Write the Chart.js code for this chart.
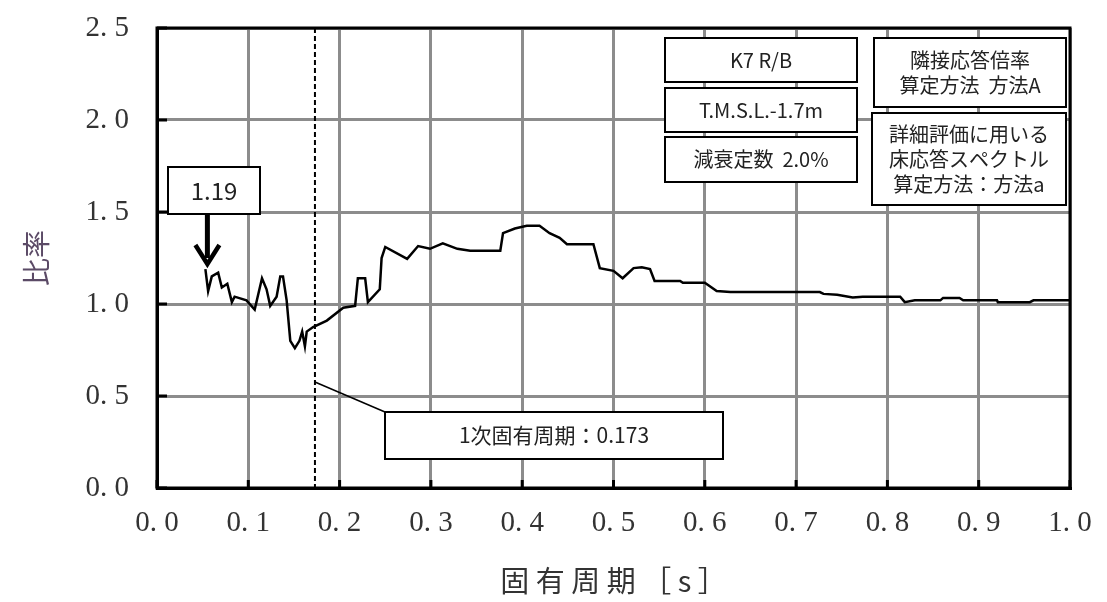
<!DOCTYPE html>
<html>
<head>
<meta charset="utf-8">
<script src="https://cdn.jsdelivr.net/npm/chart.js@4.4.0/dist/chart.umd.min.js"></script>
<style>
  body { margin: 0; background: #fff; }
  #wrap { width: 1107px; height: 602px; }
</style>
</head>
<body>
<div id="wrap"><canvas id="myLineChart1"></canvas></div>
<script>
// periods [s] and ratio values
var periods = [0.053, 0.056, 0.060, 0.067, 0.071, 0.077, 0.082, 0.085, 0.098, 0.107,
  0.115, 0.120, 0.124, 0.131, 0.135, 0.138, 0.142, 0.146, 0.151, 0.156,
  0.159, 0.162, 0.164, 0.171, 0.186, 0.204, 0.217, 0.220, 0.228, 0.231,
  0.244, 0.246, 0.250, 0.274, 0.286, 0.299, 0.313, 0.329, 0.343, 0.376,
  0.379, 0.392, 0.405, 0.419, 0.430, 0.441, 0.449, 0.478, 0.485, 0.500,
  0.510, 0.522, 0.531, 0.540, 0.545, 0.573, 0.576, 0.600, 0.613, 0.628,
  0.726, 0.730, 0.745, 0.762, 0.773, 0.814, 0.819, 0.830, 0.858, 0.861,
  0.879, 0.883, 0.920, 0.921, 0.956, 0.960, 1.000];
var ratios = [1.19, 1.07, 1.15, 1.17, 1.09, 1.11, 1.01, 1.04, 1.02, 0.97,
  1.14, 1.08, 0.99, 1.04, 1.15, 1.15, 1.02, 0.80, 0.76, 0.80,
  0.85, 0.77, 0.85, 0.875, 0.91, 0.98, 0.99, 1.14, 1.14, 1.01,
  1.08, 1.25, 1.31, 1.245, 1.315, 1.30, 1.33, 1.30, 1.29, 1.29,
  1.385, 1.41, 1.425, 1.425, 1.385, 1.36, 1.325, 1.325, 1.195, 1.18,
  1.14, 1.195, 1.20, 1.19, 1.125, 1.125, 1.115, 1.115, 1.07, 1.065,
  1.065, 1.055, 1.05, 1.035, 1.04, 1.04, 1.01, 1.02, 1.02, 1.033,
  1.033, 1.02, 1.02, 1.01, 1.01, 1.02, 1.02];
var xTicks = [0, 0.1, 0.2, 0.3, 0.4, 0.5, 0.6, 0.7, 0.8, 0.9, 1.0];
var yTicks = [0, 0.5, 1.0, 1.5, 2.0, 2.5];
var firstPeriod = 0.173;
var peakLabel = '1.19';

var points = [];
for (var i = 0; i < periods.length; i++) {
  points.push({ x: periods[i], y: ratios[i] });
}

function fmt(v) {
  return v.toFixed(1).replace('.', '. ');
}

function textBox(ctx, x, y, w, h, lines, size) {
  ctx.save();
  ctx.fillStyle = '#fff';
  ctx.fillRect(x, y, w, h);
  ctx.strokeStyle = '#000';
  ctx.lineWidth = 2;
  ctx.strokeRect(x, y, w, h);
  ctx.fillStyle = '#222';
  ctx.font = (size || 20) + 'px "Noto Sans CJK JP", "Noto Sans", sans-serif';
  ctx.textAlign = 'center';
  ctx.textBaseline = 'middle';
  var lh = 25;
  var y0 = y + h / 2 - (lines.length - 1) * lh / 2;
  for (var k = 0; k < lines.length; k++) {
    ctx.fillText(lines[k], x + w / 2, y0 + k * lh);
  }
  ctx.restore();
}

var notes = {
  id: 'notes',
  afterDraw: function (chart) {
    var ctx = chart.ctx;
    var a = chart.chartArea;
    var xs = chart.scales.x;
    var ys = chart.scales.y;

    // frame
    ctx.save();
    ctx.strokeStyle = '#000';
    ctx.lineWidth = 3;
    ctx.strokeRect(a.left, a.top, a.right - a.left, a.bottom - a.top);

    // small inner ticks
    xTicks.forEach(function (t) {
      var px = xs.getPixelForValue(t);
      ctx.beginPath(); ctx.moveTo(px, a.bottom); ctx.lineTo(px, a.bottom - 8); ctx.stroke();
    });
    yTicks.forEach(function (t) {
      var py = ys.getPixelForValue(t);
      ctx.beginPath(); ctx.moveTo(a.left, py); ctx.lineTo(a.left + 10, py); ctx.stroke();
    });

    // 1st natural period dashed line
    var px1 = xs.getPixelForValue(firstPeriod);
    ctx.lineWidth = 2;
    ctx.setLineDash([5, 3]);
    ctx.beginPath(); ctx.moveTo(px1, a.top); ctx.lineTo(px1, a.bottom); ctx.stroke();
    ctx.setLineDash([]);

    // leader to period box
    ctx.lineWidth = 1.5;
    ctx.beginPath(); ctx.moveTo(px1, 382); ctx.lineTo(385, 412); ctx.stroke();
    ctx.restore();

    textBox(ctx, 385, 412, 338, 47, ['1次固有周期：' + firstPeriod], 21);

    // peak label with arrow
    var pa = xs.getPixelForValue(periods[0]) + 2;
    textBox(ctx, 168, 167, 92, 47, [peakLabel], 24);
    ctx.save();
    ctx.strokeStyle = '#000';
    ctx.lineWidth = 5;
    ctx.beginPath(); ctx.moveTo(pa, 214); ctx.lineTo(pa, 258); ctx.stroke();
    ctx.lineWidth = 4.5;
    ctx.beginPath(); ctx.moveTo(pa - 12, 245); ctx.lineTo(pa, 264); ctx.lineTo(pa + 12, 245); ctx.stroke();
    ctx.restore();

    textBox(ctx, 665, 38, 192, 44, ['K7 R/B']);
    textBox(ctx, 665, 88, 192, 44, ['T.M.S.L.-1.7m']);
    textBox(ctx, 665, 137, 192, 45, ['減衰定数  2.0%']);
    textBox(ctx, 874, 38, 192, 69, ['隣接応答倍率', '算定方法  方法A']);
    textBox(ctx, 872, 113, 194, 92, ['詳細評価に用いる', '床応答スペクトル', '算定方法：方法a']);
  }
};

var chartdata1 = {
  datasets: [{
    label: '比率',
    data: points,
    borderColor: '#000',
    borderWidth: 2.5,
    pointRadius: 0,
    tension: 0,
    fill: false
  }]
};

var ctx1 = document.getElementById('myLineChart1');
var lineGraph1 = new Chart(ctx1, {
  type: 'line',
  data: chartdata1,
  plugins: [notes],
  options: {
    responsive: true,
    maintainAspectRatio: false,
    animation: false,
    layout: { padding: { top: 28, right: 37, left: 0, bottom: 0 } },
    plugins: { legend: { display: false }, tooltip: { enabled: false } },
    scales: {
      x: {
        type: 'linear',
        min: 0,
        max: 1,
        afterBuildTicks: function (s) { s.ticks = xTicks.map(function (v) { return { value: v }; }); },
        afterFit: function (s) { s.height = 114; s.paddingLeft = 0; s.paddingRight = 0; },
        ticks: {
          callback: function (v) { return fmt(v); },
          font: { family: '"Liberation Serif", serif', size: 29 },
          color: '#333',
          padding: 18,
          maxRotation: 0
        },
        grid: { color: '#8c8c8c', lineWidth: 3, drawTicks: false },
        border: { color: '#000', width: 3 },
        title: {
          display: true,
          text: '固 有 周 期 ［ s ］',
          font: { family: '"Noto Sans CJK JP", serif', size: 29 },
          color: '#333',
          padding: { top: 4 }
        }
      },
      y: {
        min: 0,
        max: 2.5,
        afterBuildTicks: function (s) { s.ticks = yTicks.map(function (v) { return { value: v }; }); },
        afterFit: function (s) { s.width = 157; s.paddingTop = 0; s.paddingBottom = 0; },
        ticks: {
          callback: function (v) { return fmt(v); },
          font: { family: '"Liberation Serif", serif', size: 29 },
          color: '#333',
          padding: 28
        },
        grid: { color: '#8c8c8c', lineWidth: 3, drawTicks: false },
        border: { color: '#000', width: 3 },
        title: {
          display: true,
          text: '比率',
          font: { family: '"Noto Sans CJK JP", sans-serif', size: 28 },
          color: '#5b4a66',
          padding: { top: 20 }
        }
      }
    }
  }
});
</script>
</body>
</html>
